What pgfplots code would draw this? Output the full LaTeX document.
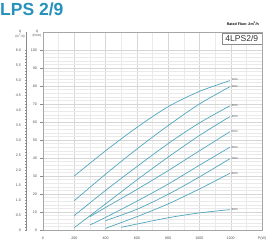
\documentclass[border=0pt]{standalone}
\usepackage{pgfplots}
\pgfplotsset{compat=1.18}
\usepackage{fontspec}
\setmainfont{Liberation Sans}
\definecolor{titleblue}{RGB}{38,145,186}
\definecolor{curve}{RGB}{78,166,190}
\definecolor{gridmaj}{RGB}{214,214,214}
\definecolor{gridmin}{RGB}{234,234,234}
\begin{document}
\begin{tikzpicture}[x=1pt,y=1pt]
\path[use as bounding box] (0,0) rectangle (268,249);
\node[anchor=base west, inner sep=0, text=titleblue, font=\bfseries\fontsize{17.5}{18}\selectfont] at (0,233.5) {LPS 2/9};
\node[anchor=base east, inner sep=0, font=\bfseries\fontsize{3.6}{4}\selectfont] at (259,223) {Rated Flow: 2m\textsuperscript{3}/h};
\node[align=center, inner sep=0, font=\fontsize{3.2}{3.6}\selectfont, text=black!70] at (20,215) {Q\\(m\textsuperscript{3}/h)};
\node[align=center, inner sep=0, font=\fontsize{3.2}{3.6}\selectfont, text=black!70] at (37,215) {Q\\(l/min)};
\begin{axis}[at={(26pt,19pt)}, anchor=south west, scale only axis, width=0.5pt, height=198pt,
  xmin=0, xmax=1, ymin=0, ymax=6.6,
  hide x axis, axis y line*=left,
  y axis line style={draw=black!45, -},
  ytick={0,0.5,1,1.5,2,2.5,3,3.5,4,4.5,5,5.5,6},
  yticklabels={0,0.5,1.0,1.5,2.0,2.5,3.0,3.5,4.0,4.5,5.0,5.5,6.0},
  minor y tick num=4,
  tick align=center,
  major tick length=2.2pt, minor tick length=1.2pt,
  tick style={draw=black!45, line width=0.3pt},
  yticklabel style={font=\fontsize{3.6}{4}\selectfont, text=black!70, xshift=-0.5pt},
  /pgf/number format/assume math mode=true]
\end{axis}
\begin{axis}[at={(43pt,19pt)}, anchor=south west, scale only axis, width=219pt, height=198pt,
  xmin=0, xmax=1400, ymin=0, ymax=110,
  xtick={0,200,400,600,800,1000,1200,1400},
  xticklabels={0,200,400,600,800,1000,1200,P(W)},
  ytick={0,10,20,30,40,50,60,70,80,90,100},
  minor x tick num=1, minor y tick num=4,
  grid=both,
  major grid style={draw=gridmaj, line width=0.35pt},
  minor grid style={draw=gridmin, line width=0.3pt},
  axis line style={draw=black!35, line width=0.4pt},
  x tick style={draw=none},
  y tick style={draw=black!45, line width=0.3pt},
  minor y tick style={draw=none},
  ytick pos=left, tick align=outside, major tick length=2.5pt,
  ticklabel style={font=\fontsize{3.6}{4}\selectfont, text=black!70},
  xticklabel style={yshift=-1pt},
  /pgf/number format/assume math mode=true,
  pc/.style={draw=curve, solid, line width=0.7pt, smooth, mark=none}]
\addplot[pc] coordinates {(200,30) (400,44) (600,57) (800,68.5) (1000,77) (1195,83)};
\addplot[pc] coordinates {(200,16.3) (400,31) (600,45) (800,58) (1000,70) (1195,79.6)};
\addplot[pc] coordinates {(200,8) (400,22) (600,35.2) (800,48) (1000,59.5) (1195,69)};
\addplot[pc] coordinates {(200,1.3) (400,14.5) (600,27.8) (800,40.5) (1000,52.5) (1195,63)};
\addplot[pc] coordinates {(300,7.4) (400,12.5) (600,22.5) (800,33) (1000,44) (1195,54.6)};
\addplot[pc] coordinates {(300,2.8) (400,7) (600,16) (800,25.5) (1000,36) (1195,46)};
\addplot[pc] coordinates {(400,5.2) (600,11.5) (800,19.8) (1000,29.5) (1195,39.6)};
\addplot[pc] coordinates {(400,0.9) (600,7.4) (800,14.5) (1000,22.8) (1195,31.5)};
\addplot[pc] coordinates {(500,1.5) (600,3.3) (800,6.8) (1000,9.5) (1195,11.3)};
\begin{scope}[every node/.style={anchor=west, inner sep=0, font=\fontsize{3}{3.4}\selectfont, text=black!70}]
\node at (axis cs:1205,83.5) {10m};
\node at (axis cs:1205,79.6) {20m};
\node at (axis cs:1205,69) {30m};
\node at (axis cs:1205,63) {40m};
\node at (axis cs:1205,54.6) {50m};
\node at (axis cs:1205,46) {60m};
\node at (axis cs:1205,39.6) {70m};
\node at (axis cs:1205,31.5) {80m};
\node at (axis cs:1205,11.3) {90m};
\end{scope}
\node[anchor=north east, draw=black!45, fill=white, line width=0.4pt, minimum width=40pt, minimum height=11.5pt, inner sep=0, font=\fontsize{8.5}{9}\selectfont, text=black!80] at (rel axis cs:1,1) [yshift=-1pt] {4LPS2/9};
\end{axis}
\end{tikzpicture}
\end{document}
